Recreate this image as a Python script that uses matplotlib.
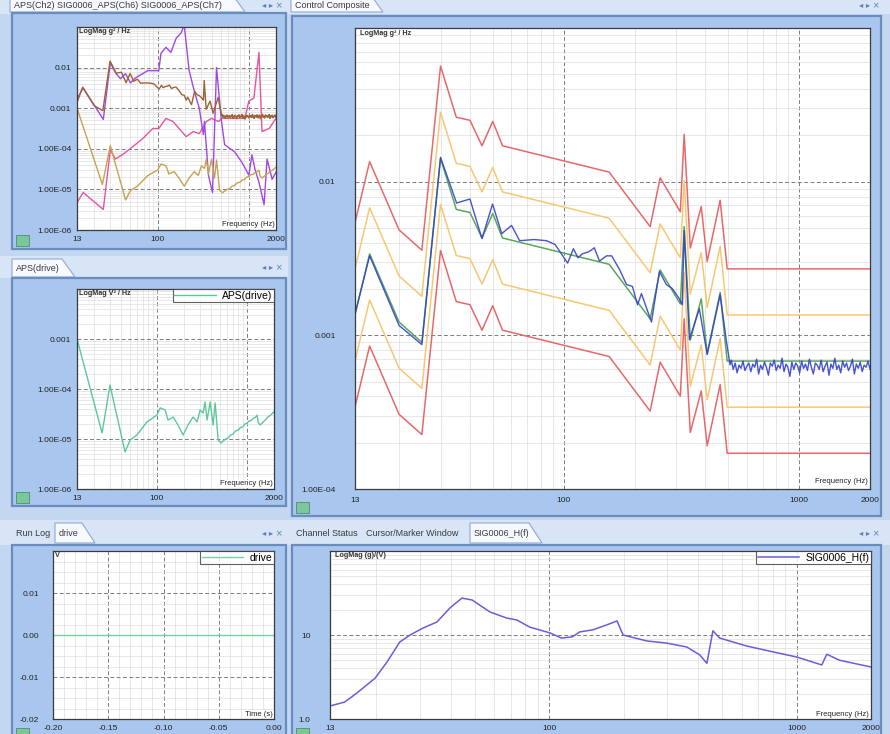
import numpy as np
import matplotlib
matplotlib.use('Agg')
import matplotlib.pyplot as plt
from matplotlib.patches import Rectangle, Polygon
from matplotlib.ticker import FixedLocator, FixedFormatter, NullFormatter, LogLocator, MultipleLocator

plt.rcParams['font.family'] = ['Liberation Sans', 'DejaVu Sans']

# ---- control channel (Ch2) spectrum, g^2/Hz ----
ctrl_f = [13, 15, 20, 25, 30, 35.1, 40, 45, 49.9, 54.6, 60.1, 65, 75, 84.6, 92, 104, 110, 115,
          120, 128, 135, 142, 152, 160, 172.5, 185, 196, 206, 214, 236, 255, 273, 289, 310,
          319, 325, 342, 377, 407, 427, 462, 490, 509]
ctrl_v = [1.38e-3, 3.29e-3, 1.16e-3, 8.7e-4, 1.44e-2, 7.26e-3, 7.71e-3, 4.26e-3, 7.15e-3,
          4.59e-3, 5.19e-3, 4.13e-3, 4.2e-3, 4.13e-3, 3.9e-3, 2.95e-3, 3.66e-3, 3.2e-3,
          3.39e-3, 3.5e-3, 3.71e-3, 3.04e-3, 3.29e-3, 3.29e-3, 2.69e-3, 2.14e-3, 2.08e-3,
          1.58e-3, 1.87e-3, 1.22e-3, 2.61e-3, 2.14e-3, 2.02e-3, 1.73e-3, 1.58e-3, 4.8e-3,
          9.4e-4, 1.49e-3, 7.5e-4, 1.05e-3, 1.84e-3, 9.4e-4, 6.43e-4]
# flat part of the control spectrum above ~515 Hz (log spaced bins)
ctrl_tail_v = [6.9e-4, 6.0e-4, 6.6e-4, 5.7e-4, 6.4e-4, 6.1e-4, 6.8e-4, 5.9e-4, 6.3e-4, 6.6e-4,
               5.8e-4, 6.5e-4, 6.2e-4, 7.0e-4, 5.6e-4, 6.4e-4, 6.0e-4, 6.7e-4, 6.2e-4, 5.5e-4,
               6.6e-4, 6.3e-4, 6.9e-4, 5.9e-4, 6.4e-4, 6.1e-4, 7.1e-4, 5.8e-4, 6.5e-4, 6.2e-4,
               5.4e-4, 6.7e-4, 6.0e-4, 6.6e-4, 6.3e-4, 5.7e-4, 6.8e-4, 6.1e-4, 6.5e-4, 5.9e-4,
               7.0e-4, 6.2e-4, 5.6e-4, 6.6e-4, 6.4e-4, 6.0e-4, 6.9e-4, 5.8e-4, 6.3e-4, 6.7e-4,
               5.5e-4, 6.5e-4, 6.1e-4, 7.1e-4, 6.0e-4, 6.4e-4, 5.7e-4, 6.8e-4, 6.2e-4, 6.6e-4,
               5.9e-4, 6.3e-4, 7.0e-4, 5.6e-4, 6.5e-4, 6.1e-4, 6.7e-4, 5.8e-4, 6.4e-4, 6.2e-4,
               6.8e-4, 6.0e-4]

# ---- reference profile and tolerance bands ----
ref_f = [13, 15, 20, 25, 30, 35, 40, 45, 50, 55, 156, 233, 257, 313, 325, 345, 384, 407, 462, 495, 2000]
ref_v = [1.36e-3, 3.39e-3, 1.22e-3, 9.0e-4, 1.42e-2, 6.6e-3, 6.3e-3, 4.3e-3, 6.2e-3, 4.3e-3,
         2.9e-3, 1.28e-3, 2.66e-3, 1.6e-3, 5.1e-3, 9.3e-4, 1.73e-3, 7.6e-4, 1.9e-3, 6.8e-4, 6.8e-4]
alarm_db = 3.0
abort_db = 6.0

# ---- other response channels ----
purp_f = [13, 15.2, 25.3, 30.2, 34.4, 39.1, 44.4, 50.4, 57.3, 77.9, 103, 108.7, 123.5, 140, 160,
          181, 196, 222, 253, 287, 318, 327, 362, 401, 420, 444, 504, 545, 703, 841, 1007, 1087,
          1174, 1300, 1479, 1596, 1813, 2000]
purp_v = [1.68e-3, 3.16e-3, 5.3e-4, 1.33e-2, 7.5e-3, 5.3e-3, 7.1e-3, 4.2e-3, 5.6e-3, 8.4e-3,
          8.4e-3, 2.24e-2, 3.16e-2, 2.37e-2, 5.3e-2, 7.1e-2, 0.112, 8.4e-3, 2.66e-3, 1e-3,
          2.24e-4, 4.7e-4, 2.24e-5, 8.4e-6, 2e-4, 1e-2, 4.7e-4, 1.26e-4, 8.4e-5, 4.7e-5,
          2.24e-5, 7.1e-5, 3.16e-5, 1.5e-5, 4.2e-6, 5.6e-5, 1.78e-5, 2.66e-5]
pink_f = [13, 15.2, 25.3, 30.2, 34.4, 42.2, 53.1, 68.5, 88.5, 103, 123.5, 147.6, 172, 206, 247,
          287, 344, 391, 468, 504, 908, 1007, 1143, 1300, 1403, 1680, 2000]
pink_v = [4.7e-6, 8.4e-6, 3.2e-6, 9.4e-5, 5.6e-5, 7.5e-5, 1.12e-4, 1.78e-4, 3.16e-4, 3.16e-4,
          5.6e-4, 4.7e-4, 3.16e-4, 2.0e-4, 2.66e-4, 2.37e-4, 4.7e-4, 5.6e-4, 4.7e-4, 5.6e-4,
          5.6e-4, 1.5e-3, 1.78e-3, 2.37e-2, 2.66e-4, 3.16e-4, 5.6e-4]

# ---- drive APS, V^2/Hz ----
drive_f = [13, 24.7, 30.2, 44.4, 50.5, 60, 78, 100, 109, 124, 133, 152, 172, 196, 222, 253, 280,
           303, 327, 343, 362, 391, 422, 444, 480, 518, 540, 580, 620, 660, 700, 750, 800, 850,
           900, 950, 1000, 1060, 1120, 1180, 1240, 1300, 1330, 1400, 1480, 1560, 1640, 1720,
           1800, 1900, 2000]
drive_v = [1.0e-3, 1.32e-5, 1.2e-4, 5.5e-6, 9.5e-6, 1.2e-5, 2.2e-5, 3.0e-5, 4.2e-5, 3.8e-5,
           2.4e-5, 2.75e-5, 1.9e-5, 1.2e-5, 1.9e-5, 2.75e-5, 2.2e-5, 3.8e-5, 3.3e-5, 5.5e-5,
           2.4e-5, 5.5e-5, 1.9e-5, 5.3e-5, 9.5e-6, 8.3e-6, 9.0e-6, 1.0e-5, 1.05e-5, 1.2e-5,
           1.25e-5, 1.45e-5, 1.5e-5, 1.7e-5, 1.75e-5, 2.0e-5, 2.05e-5, 2.3e-5, 2.35e-5, 2.6e-5,
           2.7e-5, 3.0e-5, 2.2e-5, 1.9e-5, 2.1e-5, 2.3e-5, 2.5e-5, 2.8e-5, 2.9e-5, 3.2e-5, 3.5e-5]

# ---- drive time history ----
time_s = [-0.20, 0.0]
drive_volts = [0.0, 0.0]

# ---- transfer function SIG0006_H(f), g/V ----
h_f = [13, 14.9, 16.7, 19.8, 22.1, 24.9, 27.4, 30.9, 35.2, 39.7, 44.4, 48.8, 57.6, 67.4, 74, 83.5,
       100.7, 112, 124, 133, 150, 171, 188, 199, 248, 299, 360, 406, 434, 459, 489, 628, 802,
       1002, 1265, 1325, 1494, 2000]
h_v = [1.43, 1.59, 2.04, 3.07, 4.77, 8.26, 10, 12.1, 14.3, 21, 27.5, 26.1, 18.8, 15.9, 15.1, 12.4,
       10.6, 9.2, 9.5, 10.9, 11.5, 13.2, 14.7, 10, 8.5, 8.0, 7.2, 5.8, 4.6, 11.2, 9.2, 7.4, 6.3,
       5.47, 4.4, 5.9, 5.0, 4.16]

ctrl_all_f = np.concatenate([ctrl_f, np.geomspace(515, 2000, len(ctrl_tail_v))])
ctrl_all_v = np.concatenate([ctrl_v, ctrl_tail_v])
ref_v = np.array(ref_v)

W, H = 890, 734
fig = plt.figure(figsize=(W / 100, H / 100), dpi=100)
fig.patch.set_facecolor('#C3D7F1')


def px(x0, y0, x1, y1):
    return [x0 / W, 1 - y1 / H, (x1 - x0) / W, (y1 - y0) / H]


# window chrome drawn in pixel units
bg = fig.add_axes([0, 0, 1, 1])
bg.set_xlim(0, W)
bg.set_ylim(H, 0)
bg.axis('off')

FRAME_FC = '#A8C6EE'
FRAME_EC = '#6B8CBF'
STRIP_FC = '#D8E5F6'


def strip(x0, x1, y0, y1):
    bg.add_patch(Rectangle((x0, y0), x1 - x0, y1 - y0, fc=STRIP_FC, ec='none'))


def frame(x0, y0, x1, y1):
    bg.add_patch(Rectangle((x0, y0), x1 - x0, y1 - y0, fc=FRAME_FC, ec=FRAME_EC, lw=1.6))
    # small status icon in the lower-left corner
    bg.add_patch(Rectangle((x0 + 4, y1 - 14), 13, 11, fc='#79C79A', ec='#4E8F6E', lw=0.6))


def tab(x0, x1, y0, y1, label, active=True, ty=None):
    if active:
        bg.add_patch(Polygon([(x0, y1), (x0, y0), (x1 - 8, y0), (x1 + 5, y1)], closed=True,
                             fc='#F6F9FE', ec='#8EA9D1', lw=0.8))
    if ty is None:
        ty = (y0 + y1) / 2 + 0.5
    bg.text(x0 + 4, ty, label, fontsize=6.5, color='#3A3A3A', ha='left', va='center')


def controls(x, y):
    bg.text(x, y, '\u25c2 \u25b8 \u00d7', fontsize=6, color='#5B7DB3', ha='right', va='center',
            family=['DejaVu Sans'])


# top strip
strip(0, W, -2, 14)
tab(10, 240, -6, 12, 'APS(Ch2) SIG0006_APS(Ch6) SIG0006_APS(Ch7)', ty=5.5)
controls(283, 5.5)
tab(291, 378, -6, 12, 'Control Composite', ty=5.5)
controls(880, 5.5)

frame(12, 13, 286, 249)
frame(292, 16, 881, 516)

strip(0, 288, 256, 278)
tab(12, 70, 259, 277, 'APS(drive)')
controls(283, 268)
frame(12, 278, 286, 506)

strip(0, W, 520, 545)
tab(12, 52, 523, 543, 'Run Log', active=False)
tab(55, 90, 523, 543, 'drive')
controls(283, 533)
tab(292, 360, 523, 543, 'Channel Status', active=False)
tab(362, 468, 523, 543, 'Cursor/Marker Window', active=False)
tab(470, 537, 523, 543, 'SIG0006_H(f)')
controls(880, 533)
frame(12, 545, 286, 742)
frame(292, 545, 881, 742)


def style(ax):
    ax.set_facecolor('white')
    for s in ax.spines.values():
        s.set_color('#3A3A3A')
        s.set_linewidth(0.9)
    ax.tick_params(which='both', length=0, labelsize=6, colors='#222222', pad=4)
    ax.grid(which='major', color='#7C7C7C', ls=(0, (4, 2.5)), lw=0.7)
    ax.grid(which='minor', color='#DEDEDE', ls='-', lw=0.5)
    ax.set_axisbelow(True)


def freq_axis(ax, labels):
    ax.set_xscale('log')
    ax.set_xlim(13, 2000)
    ax.xaxis.set_major_locator(FixedLocator([13, 100, 1000, 2000]))
    ax.xaxis.set_major_formatter(FixedFormatter(labels))
    ax.xaxis.set_minor_locator(LogLocator(base=10, subs=np.arange(2, 10)))
    ax.xaxis.set_minor_formatter(NullFormatter())
    ax.text(0.995, 0.008, 'Frequency (Hz)', transform=ax.transAxes, ha='right', va='bottom',
            fontsize=5.5, color='#222222', bbox=dict(fc='white', ec='none', pad=0.6))


def log_yaxis(ax, lo, hi, ticks, labels):
    ax.set_yscale('log')
    ax.set_ylim(lo, hi)
    ax.yaxis.set_major_locator(FixedLocator(ticks))
    ax.yaxis.set_major_formatter(FixedFormatter(labels))
    ax.yaxis.set_minor_locator(LogLocator(base=10, subs=np.arange(2, 10)))
    ax.yaxis.set_minor_formatter(NullFormatter())


def unit_label(ax, text):
    ax.text(0.01, 0.995, text, transform=ax.transAxes, ha='left', va='top', fontsize=5.2,
            fontweight='bold', color='#333333')


def legend(ax):
    lg = ax.legend(loc='upper right', fontsize=7.5, frameon=True, fancybox=False,
                   borderaxespad=0, borderpad=0.15, handlelength=4, handletextpad=0.6,
                   labelspacing=0)
    lg.get_frame().set_edgecolor('#3A3A3A')
    lg.get_frame().set_linewidth(0.8)


# --- response PSDs ---
ax1 = fig.add_axes(px(77, 27, 276, 230))
style(ax1)
ax1.plot(pink_f, pink_v, color='#E6559E', lw=1.0)
ax1.plot(purp_f, purp_v, color='#A148E4', lw=1.0)
ax1.plot(drive_f, drive_v, color='#C9A250', lw=1.0)
ax1.plot(ctrl_all_f, ctrl_all_v, color='#9C6434', lw=1.0)
freq_axis(ax1, ['13', '100', '', '2000'])
log_yaxis(ax1, 1e-6, 0.1, [1e-6, 1e-5, 1e-4, 1e-3, 1e-2],
          ['1.00E-06', '1.00E-05', '1.00E-04', '0.001', '0.01'])
unit_label(ax1, 'LogMag g\u00b2 / Hz')

# --- drive APS ---
ax2 = fig.add_axes(px(77, 289, 274, 489))
style(ax2)
ax2.plot(drive_f, drive_v, color='#5EC89B', lw=1.0, label='APS(drive)')
freq_axis(ax2, ['13', '100', '', '2000'])
log_yaxis(ax2, 1e-6, 1e-2, [1e-6, 1e-5, 1e-4, 1e-3],
          ['1.00E-06', '1.00E-05', '1.00E-04', '0.001'])
unit_label(ax2, 'LogMag V\u00b2 / Hz')
legend(ax2)

# --- drive time history ---
ax3 = fig.add_axes(px(53, 551, 274, 719))
style(ax3)
ax3.plot(time_s, drive_volts, color='#7ACFA2', lw=1.0, label='drive')
ax3.set_xlim(-0.2, 0.0)
ax3.set_ylim(-0.02, 0.02)
ax3.xaxis.set_major_locator(FixedLocator([-0.2, -0.15, -0.1, -0.05, 0.0]))
ax3.xaxis.set_major_formatter(FixedFormatter(['-0.20', '-0.15', '-0.10', '-0.05', '0.00']))
ax3.xaxis.set_minor_locator(MultipleLocator(0.01))
ax3.yaxis.set_major_locator(FixedLocator([-0.02, -0.01, 0.0, 0.01]))
ax3.yaxis.set_major_formatter(FixedFormatter(['-0.02', '-0.01', '0.00', '0.01']))
ax3.yaxis.set_minor_locator(MultipleLocator(0.0025))
ax3.tick_params(axis='y', pad=10)
unit_label(ax3, 'V')
ax3.text(0.995, 0.008, 'Time (s)', transform=ax3.transAxes, ha='right', va='bottom',
         fontsize=5.5, color='#222222', bbox=dict(fc='white', ec='none', pad=0.6))
legend(ax3)

# --- control composite: abort/alarm bands around the reference, plus control ---
ax4 = fig.add_axes(px(355, 28, 870, 489))
style(ax4)
for db, col in [(abort_db, '#E8686A'), (alarm_db, '#F7C774')]:
    k = 10 ** (db / 10)
    ax4.plot(ref_f, ref_v * k, color=col, lw=1.1)
    ax4.plot(ref_f, ref_v / k, color=col, lw=1.1)
ax4.plot(ref_f, ref_v, color='#58A85A', lw=1.1)
ax4.plot(ctrl_all_f, ctrl_all_v, color='#3340CC', lw=1.0, alpha=0.9)
freq_axis(ax4, ['13', '100', '1000', '2000'])
log_yaxis(ax4, 1e-4, 0.1, [1e-4, 1e-3, 1e-2], ['1.00E-04', '0.001', '0.01'])
ax4.tick_params(axis='y', pad=14)
ax4.tick_params(axis='x', pad=6)
unit_label(ax4, 'LogMag g\u00b2 / Hz')

# --- transfer function ---
ax5 = fig.add_axes(px(330, 551, 871, 719))
style(ax5)
ax5.plot(h_f, h_v, color='#6A5ED8', lw=1.1, label='SIG0006_H(f)')
freq_axis(ax5, ['13', '100', '1000', '2000'])
log_yaxis(ax5, 1, 100, [1, 10], ['1.0', '10'])
ax5.tick_params(axis='y', pad=14)
unit_label(ax5, 'LogMag (g)/(V)')
legend(ax5)

fig.savefig('out.png', dpi=100, facecolor=fig.get_facecolor())
